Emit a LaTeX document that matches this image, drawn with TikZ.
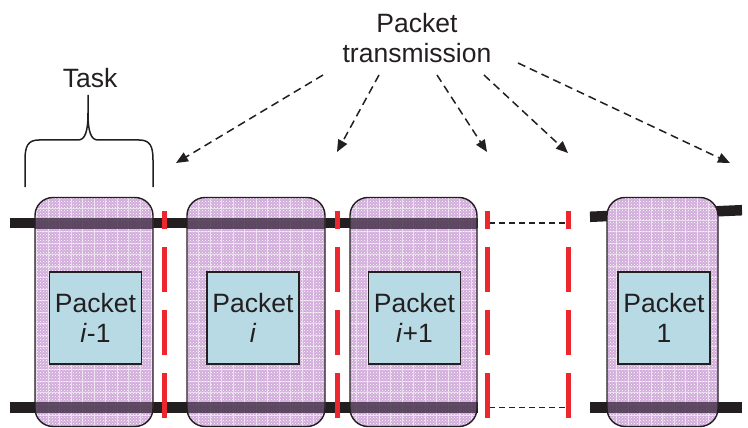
\documentclass[tikz,border=0pt]{standalone}
\usepackage{fontspec}
\setmainfont{Liberation Sans}
\usetikzlibrary{arrows.meta,calc,patterns}
\definecolor{lav}{RGB}{210,172,218}
\definecolor{bandc}{RGB}{72,52,76}
\definecolor{barc}{RGB}{35,31,32}
\definecolor{redc}{RGB}{236,40,46}
\definecolor{pblue}{RGB}{184,218,229}
\tikzset{
  lbl/.style={font=\fontsize{26.5}{30}\selectfont, inner sep=0pt, text=barc},
  texture/.style={sharp corners},
  taskbox/.style={draw=barc, line width=1.4pt, rounded corners=18pt, fill=lav, inner sep=0pt,
     minimum height=229pt, path picture={
     \fill[texture, pattern=crosshatch dots, pattern color=white] (path picture bounding box.south west) rectangle (path picture bounding box.north east);
     \draw[texture, white, line width=0.8pt, opacity=0.55] ([shift={(-3pt,-3pt)}]path picture bounding box.south west) grid[step=11.5pt] (path picture bounding box.north east);
     \fill[texture, bandc, opacity=0.85] ([yshift=-20.5pt]path picture bounding box.north west) rectangle ([yshift=-31pt]path picture bounding box.north east);
     \fill[texture, bandc, opacity=0.85] ([yshift=13.5pt]path picture bounding box.south west) rectangle ([yshift=24.5pt]path picture bounding box.south east);
  }},
  lastbox/.style={draw=barc, line width=1.4pt, rounded corners=18pt, fill=lav, inner sep=0pt,
     minimum height=229pt, path picture={
     \fill[texture, pattern=crosshatch dots, pattern color=white] (path picture bounding box.south west) rectangle (path picture bounding box.north east);
     \draw[texture, white, line width=0.8pt, opacity=0.55] ([shift={(-3pt,-3pt)}]path picture bounding box.south west) grid[step=11.5pt] (path picture bounding box.north east);
     \fill[texture, bandc, opacity=0.85] (598,211.1) -- (728,205.5) -- (728,216.5) -- (598,222.1) -- cycle;
     \fill[texture, bandc, opacity=0.85] ([yshift=13.5pt]path picture bounding box.south west) rectangle ([yshift=24.5pt]path picture bounding box.south east);
  }},
  pbox/.style={draw=barc, line width=1.4pt, fill=pblue, minimum width=92pt, minimum height=92pt,
     inner sep=0pt, align=center, font=\fontsize{26.5}{30}\selectfont, text=barc},
  bar/.style={draw=barc, line width=10.5pt},
  reddash/.style={draw=redc, line width=5pt, dash pattern=on 45pt off 18pt},
  thindash/.style={draw=barc, line width=1.2pt, dash pattern=on 6pt off 4pt},
  sendarrow/.style={draw=barc, line width=1.5pt, dash pattern=on 8pt off 5pt,
     -{Triangle[length=12pt,width=10pt]}},
}
\begin{document}
\begin{tikzpicture}[x=1pt,y=-1pt]
\useasboundingbox (0,0) rectangle (748,428);
% bars
\coordinate (bl1) at (10,223);
\coordinate (br1) at (478,223);
\coordinate (bl2) at (10,407.5);
\coordinate (br2) at (478,407.5);
\draw[bar] (bl1) -- (br1);
\draw[bar] (bl2) -- (br2);
\coordinate (cl1) at (590,216.8);
\coordinate (cr1) at (742,210.2);
\coordinate (cl2) at (590,407.5);
\coordinate (cr2) at (742,407.5);
\draw[bar] (cl1) -- (cr1);
\draw[bar] (cl2) -- (cr2);
% thin dashed link
\coordinate (d1a) at (489,223);
\coordinate (d1b) at (566,223);
\coordinate (d2a) at (489,407.5);
\coordinate (d2b) at (566,407.5);
\draw[thindash] (d1a) -- (d1b);
\draw[thindash] (d2a) -- (d2b);
% task boxes
\node[taskbox, minimum width=118pt] (t1) at (94,312) {};
\node[taskbox, minimum width=138pt] (t2) at (256,312) {};
\node[taskbox, minimum width=127pt] (t3) at (413.5,312) {};
\node[lastbox, minimum width=111pt] (t4) at (662.5,312) {};
% packets
\node[pbox] (p1) at (95.5,318) {Packet\\\textit{i}-1};
\node[pbox] (p2) at (253,318) {Packet\\\textit{i}};
\node[pbox] (p3) at (414.5,318) {Packet\\\textit{i}+1};
\node[pbox] (p4) at (664,318) {Packet\\1};
% red dashed separators
\foreach \n/\x in {1/164,2/337.5,3/487.5,4/568.5}{
  \coordinate (r\n b) at (\x,418);
  \coordinate (r\n t) at (\x,211);
  \draw[reddash] (r\n b) -- (r\n t);
}
% task brace
\node[lbl, anchor=base] (task) at (90,88) {Task};
\coordinate (brL) at (25,187);
\coordinate (brR) at (153,187);
\coordinate (brT) at (88,95);
\draw[barc, line width=1.5pt] (brL) -- (25,160) .. controls (25,146) and (28,140) .. (39,140)
   -- (78,140) .. controls (85,140) and (88,132) .. (88,113) -- (brT);
\draw[barc, line width=1.5pt] (brR) -- (153,160) .. controls (153,146) and (150,140) .. (139,140)
   -- (98,140) .. controls (91,140) and (88,132) .. (88,113);
% packet transmission
\node[lbl, anchor=north, align=center] (pt) at (417,13) {Packet\\transmission};
\coordinate (a1s) at (323,75);  \coordinate (a1e) at (176,163);
\coordinate (a2s) at (379,75);  \coordinate (a2e) at (337,152);
\coordinate (a3s) at (437,75);  \coordinate (a3e) at (487,152);
\coordinate (a4s) at (484,75);  \coordinate (a4e) at (568,153);
\coordinate (a5s) at (518,63);  \coordinate (a5e) at (730,163);
\draw[sendarrow] (a1s) -- (a1e);
\draw[sendarrow] (a2s) -- (a2e);
\draw[sendarrow] (a3s) -- (a3e);
\draw[sendarrow] (a4s) -- (a4e);
\draw[sendarrow] (a5s) -- (a5e);
\end{tikzpicture}
\end{document}
